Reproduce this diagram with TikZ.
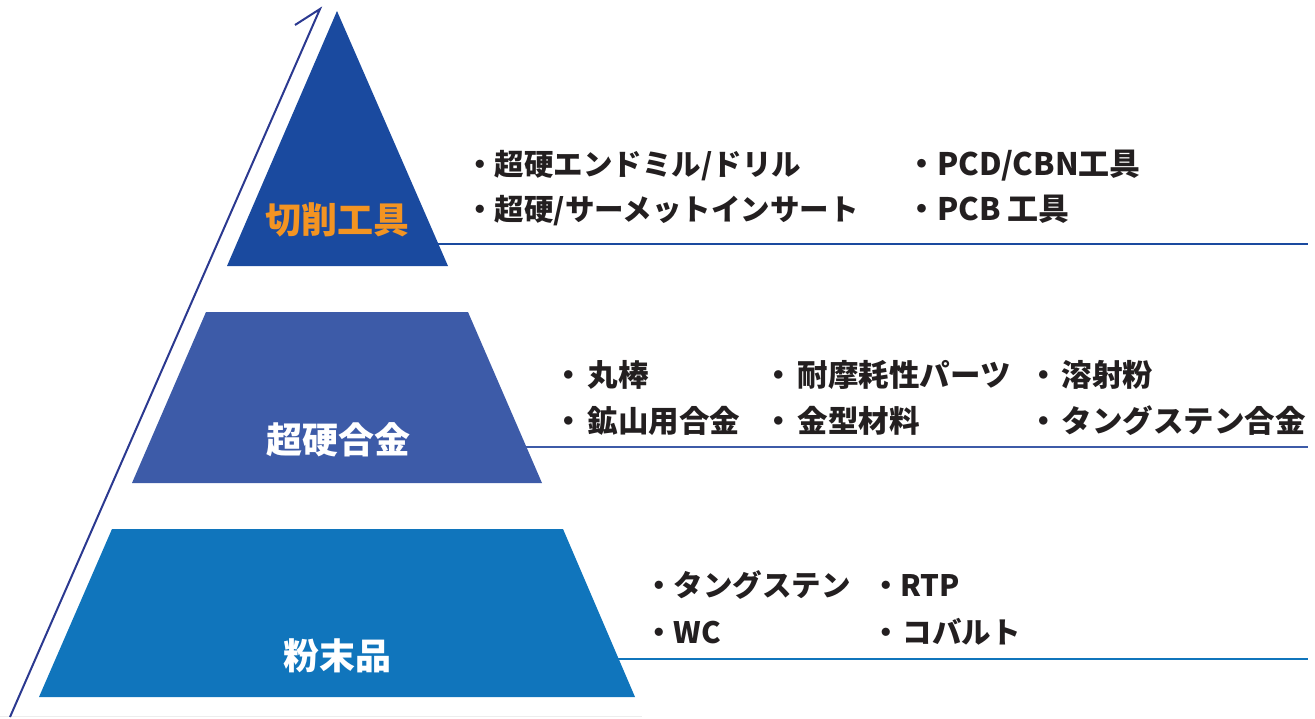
\documentclass[tikz,border=0pt]{standalone}
\usepackage{fontspec}
\setmainfont{Noto Sans CJK JP}
\definecolor{topblue}{HTML}{1A4A9F}
\definecolor{midblue}{HTML}{3D5BA8}
\definecolor{botblue}{HTML}{1075BC}
\definecolor{navy}{HTML}{2B3990}
\definecolor{lblorange}{HTML}{F39422}
\definecolor{txt}{HTML}{231F20}
\newcommand{\mybul}[1][0pt]{・\kern#1}
\begin{document}
\begin{tikzpicture}[x=1pt,y=-1pt,
  lbl/.style={font=\fontsize{36}{36}\selectfont\bfseries, inner sep=0pt, anchor=base},
  item/.style={font=\fontsize{29.5}{30}\selectfont\bfseries, text=txt, inner sep=0pt, anchor=base west},
  itembig/.style={item, font=\fontsize{31}{31}\selectfont\bfseries},
  itemmid/.style={item, font=\fontsize{30.5}{31}\selectfont\bfseries},
  rulel/.style={line width=2pt}]
\useasboundingbox (0,0) rectangle (1315,718);
% faint base line
\coordinate (g1) at (0,716); \coordinate (g2) at (642,716);
\draw[black!7, line width=1pt] (g1) -- (g2);
% level rules
\coordinate (r1a) at (420,244); \coordinate (r1b) at (1308,244);
\coordinate (r2a) at (510,447); \coordinate (r2b) at (1308,447);
\coordinate (r3a) at (600,659); \coordinate (r3b) at (1308,659);
\draw[rulel, topblue] (r1a) -- (r1b);
\draw[rulel, midblue] (r2a) -- (r2b);
\draw[rulel, botblue] (r3a) -- (r3b);
% pyramid
\fill[topblue] (337,11) -- (448,266) -- (227,266) -- cycle;
\fill[midblue] (206,312) -- (468,312) -- (542,483) -- (132,483) -- cycle;
\fill[botblue] (112,529) -- (563,529) -- (635,697) -- (39,697) -- cycle;
% arrow
\coordinate (atail) at (10,717);
\coordinate (atip) at (320,9);
\coordinate (abarb) at (295,25);
\draw[navy, line width=2pt, miter limit=20] (atail) -- (atip) -- (abarb);
% labels
\node[lbl, text=lblorange] (t1) at (337,233) {切削工具};
\node[lbl, text=white] (t2) at (338,453) {超硬合金};
\node[lbl, text=white] (t3) at (337,669) {粉末品};
% items
\node[item] (a1) at (465,175) {\mybul 超硬エンドミル/ドリル};
\node[item] (a2) at (465,220) {\mybul 超硬/サーメットインサート};
\node[itembig] (a3) at (906,175) {\mybul PCD/CBN工具};
\node[itembig] (a4) at (906,220) {\mybul PCB 工具};
\node[itemmid] (b1) at (553,386) {\mybul[4pt]丸棒};
\node[itemmid] (b2) at (763,386) {\mybul[4pt]耐摩耗性パーツ};
\node[itemmid] (b3) at (1028,386) {\mybul[3pt]溶射粉};
\node[itemmid] (b4) at (553,432) {\mybul[4pt]鉱山用合金};
\node[itemmid] (b5) at (763,432) {\mybul[4pt]金型材料};
\node[itemmid] (b6) at (1028,432) {\mybul[3pt]タングステン合金};
\node[item] (c1) at (644,596) {\mybul タングステン};
\node[item] (c2) at (871,596) {\mybul RTP};
\node[item] (c3) at (644,643) {\mybul WC};
\node[item] (c4) at (871,643) {\mybul[2pt]コバルト};
\end{tikzpicture}
\end{document}
